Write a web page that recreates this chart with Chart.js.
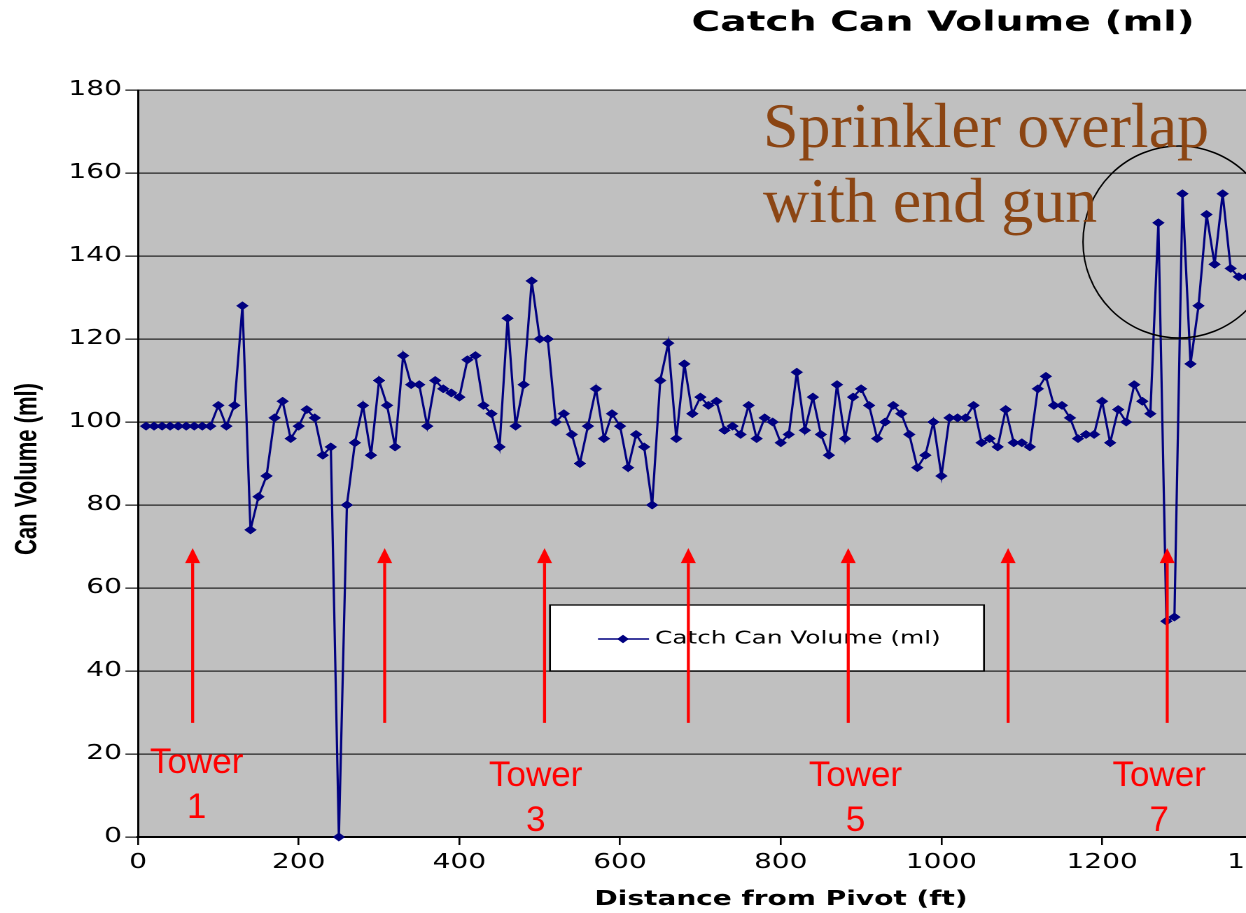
<!DOCTYPE html>
<html><head><meta charset="utf-8">
<script src="https://cdn.jsdelivr.net/npm/chart.js@4.4.1/dist/chart.umd.min.js"></script>
<style>
html,body{margin:0;padding:0;background:#fff;overflow:hidden;}
#wrap{width:1246px;height:913px;overflow:hidden;position:relative;background:#fff;}
#c{position:absolute;left:0;top:0;transform:scaleX(1.4);transform-origin:0 0;}
</style></head><body>
<div id="wrap"><canvas id="c" width="943" height="913"></canvas></div>
<script>
// ---- data ----
const distances = [
  10,20,30,40,50,60,70,80,90,100,110,120,130,140,150,160,170,180,190,200,
  210,220,230,240,250,260,270,280,290,300,310,320,330,340,350,360,370,380,390,400,
  410,420,430,440,450,460,470,480,490,500,510,520,530,540,550,560,570,580,590,600,
  610,620,630,640,650,660,670,680,690,700,710,720,730,740,750,760,770,780,790,800,
  810,820,830,840,850,860,870,880,890,900,910,920,930,940,950,960,970,980,990,1000,
  1010,1020,1030,1040,1050,1060,1070,1080,1090,1100,1110,1120,1130,1140,1150,1160,1170,1180,1190,1200,
  1210,1220,1230,1240,1250,1260,1270,1280,1290,1300,1310,1320,1330,1340,1350,1360,1370,1380
];
const volumes = [
  99,99,99,99,99,99,99,99,99,104,99,104,128,74,82,87,101,105,96,99,
  103,101,92,94,0,80,95,104,92,110,104,94,116,109,109,99,110,108,107,106,
  115,116,104,102,94,125,99,109,134,120,120,100,102,97,90,99,108,96,102,99,
  89,97,94,80,110,119,96,114,102,106,104,105,98,99,97,104,96,101,100,95,
  97,112,98,106,97,92,109,96,106,108,104,96,100,104,102,97,89,92,100,87,
  101,101,101,104,95,96,94,103,95,95,94,108,111,104,104,101,96,97,97,105,
  95,103,100,109,105,102,148,52,53,155,114,128,150,138,155,137,135,135
];
const xTickValues = [0,200,400,600,800,1000,1200,1400];
const yTickValues = [0,20,40,60,80,100,120,140,160,180];
const seriesName = 'Catch Can Volume (ml)';
const chartTitle = 'Catch Can Volume (ml)';
const xTitle = 'Distance from Pivot (ft)';
const yTitle = 'Can Volume (ml)';
const towerArrowFt = [68,307,506,685,884,1083,1281];
const towerLabelNames = ['Tower','Tower','Tower','Tower'];
const towerLabelNums = ['1','3','5','7'];
const towerLabelFt = [73,495,893,1271];
const towerLabelLine1 = [15.4,12.3,12.3,12.3];
const towerLabelLine2 = [4.6,1.45,1.45,1.45];
const noteLines = ['Sprinkler overlap','with end gun'];

// ---- layout constants ----
const SX = 1.4;              // horizontal stretch of the chart canvas
const PLOT_LEFT = 138 / SX;  // pre-stretch px

const bgPlugin = {
  id: 'bg',
  beforeDraw(chart) {
    const {ctx, chartArea: a} = chart;
    ctx.save();
    ctx.fillStyle = '#ffffff';
    ctx.fillRect(0, 0, chart.width, chart.height);
    ctx.fillStyle = '#c0c0c0';
    ctx.fillRect(a.left, a.top, a.right - a.left, a.bottom - a.top);
    ctx.restore();
  }
};

function diamond(ctx, x, y, r) {
  ctx.beginPath();
  ctx.moveTo(x, y - r); ctx.lineTo(x + r, y); ctx.lineTo(x, y + r); ctx.lineTo(x - r, y);
  ctx.closePath(); ctx.fill();
}

const decoPlugin = {
  id: 'deco',
  afterDraw(chart) {
    const {ctx} = chart;
    const xs = chart.scales.x, ys = chart.scales.y;
    // --- stretched (chart-space) texts ---
    ctx.save();
    ctx.fillStyle = '#000';
    ctx.textAlign = 'center';
    ctx.textBaseline = 'middle';
    ctx.font = 'bold 28px "DejaVu Sans"';
    ctx.fillText(chartTitle, 673.6, 23);
    ctx.font = 'bold 20px "DejaVu Sans"';
    ctx.fillText(xTitle, 557.9, 900);
    ctx.save();
    ctx.translate(20, 469);
    ctx.rotate(-Math.PI / 2);
    ctx.font = 'bold 22px "Liberation Sans"';
    ctx.fillText(yTitle, 0, 0);
    ctx.restore();
    // legend box
    const lx1 = 550 / SX, lx2 = 984 / SX, ly1 = 605, ly2 = 671;
    ctx.fillStyle = '#fff';
    ctx.fillRect(lx1, ly1, lx2 - lx1, ly2 - ly1);
    ctx.strokeStyle = '#000';
    ctx.lineWidth = 1.3;
    ctx.strokeRect(lx1, ly1, lx2 - lx1, ly2 - ly1);
    ctx.strokeStyle = '#000080';
    ctx.lineWidth = 1.5;
    ctx.beginPath(); ctx.moveTo(598 / SX, 639); ctx.lineTo(649 / SX, 639); ctx.stroke();
    ctx.fillStyle = '#000080';
    diamond(ctx, 623 / SX, 639, 4.2);
    ctx.fillStyle = '#000';
    ctx.textAlign = 'left';
    ctx.font = '17.7px "DejaVu Sans"';
    ctx.fillText(seriesName, 655 / SX, 639);
    ctx.restore();

    // --- unstretched annotations ---
    ctx.save();
    ctx.scale(1 / SX, 1);
    const X = v => xs.getPixelForValue(v) * SX;
    const Y = v => ys.getPixelForValue(v);
    ctx.strokeStyle = '#ff0000';
    ctx.fillStyle = '#ff0000';
    ctx.lineWidth = 3;
    towerArrowFt.forEach(ft => {
      const x = X(ft);
      const tip = Y(69.6), base = tip + 15, bottom = Y(27.5);
      ctx.beginPath(); ctx.moveTo(x, bottom); ctx.lineTo(x, base); ctx.stroke();
      ctx.beginPath(); ctx.moveTo(x, tip); ctx.lineTo(x + 7.5, base); ctx.lineTo(x - 7.5, base); ctx.closePath(); ctx.fill();
    });
    ctx.font = '35px "Liberation Sans"';
    ctx.textAlign = 'center';
    ctx.textBaseline = 'alphabetic';
    towerLabelFt.forEach((ft, i) => {
      ctx.fillText(towerLabelNames[i], X(ft), Y(towerLabelLine1[i]));
      ctx.fillText(towerLabelNums[i], X(ft), Y(towerLabelLine2[i]));
    });
    // circle
    ctx.strokeStyle = '#000';
    ctx.lineWidth = 1.5;
    ctx.beginPath();
    ctx.arc(1179, 242, 96, 0, Math.PI * 2);
    ctx.stroke();
    // note text
    ctx.fillStyle = '#8b4513';
    ctx.font = '64px "Liberation Serif"';
    ctx.textAlign = 'left';
    ctx.fillText(noteLines[0], 763, 147);
    ctx.fillText(noteLines[1], 763, 222);
    ctx.restore();
  }
};

new Chart(document.getElementById('c'), {
  type: 'line',
  data: {
    datasets: [{
      label: seriesName,
      data: distances.map((d, i) => ({x: d, y: volumes[i]})),
      borderColor: '#000080',
      backgroundColor: '#000080',
      borderWidth: 1.6,
      pointStyle: 'rectRot',
      pointRadius: 4.2,
      pointBorderWidth: 0.5,
      pointBackgroundColor: '#000080',
      pointBorderColor: '#000080',
      tension: 0,
      fill: false,
      clip: false
    }]
  },
  options: {
    responsive: false,
    devicePixelRatio: 2,
    animation: false,
    events: [],
    layout: {padding: {left: 0, right: 41, top: 90, bottom: 0}},
    plugins: {legend: {display: false}, title: {display: false}, tooltip: {enabled: false}},
    scales: {
      x: {
        type: 'linear', min: 0, max: 1400,
        afterBuildTicks: s => { s.ticks = xTickValues.map(v => ({value: v})); },
        ticks: {font: {family: 'DejaVu Sans', size: 20}, color: '#000', padding: 6, maxRotation: 0, autoSkip: false,
                callback: v => String(v)},
        grid: {drawOnChartArea: false, drawTicks: true, tickLength: 8, color: '#000', lineWidth: 1.3},
        border: {display: true, color: '#000', width: 2},
        afterFit: s => { s.height = 76; }
      },
      y: {
        type: 'linear', min: 0, max: 180,
        afterBuildTicks: s => { s.ticks = yTickValues.map(v => ({value: v})); },
        ticks: {font: {family: 'DejaVu Sans', size: 20}, color: '#000', padding: 2.5, callback: v => String(v)},
        grid: {color: '#262626', lineWidth: 1.3, tickLength: 9},
        border: {display: true, color: '#000', width: 1.5},
        afterFit: s => { s.width = PLOT_LEFT; }
      }
    }
  },
  plugins: [bgPlugin, decoPlugin]
});
</script>
</body></html>
